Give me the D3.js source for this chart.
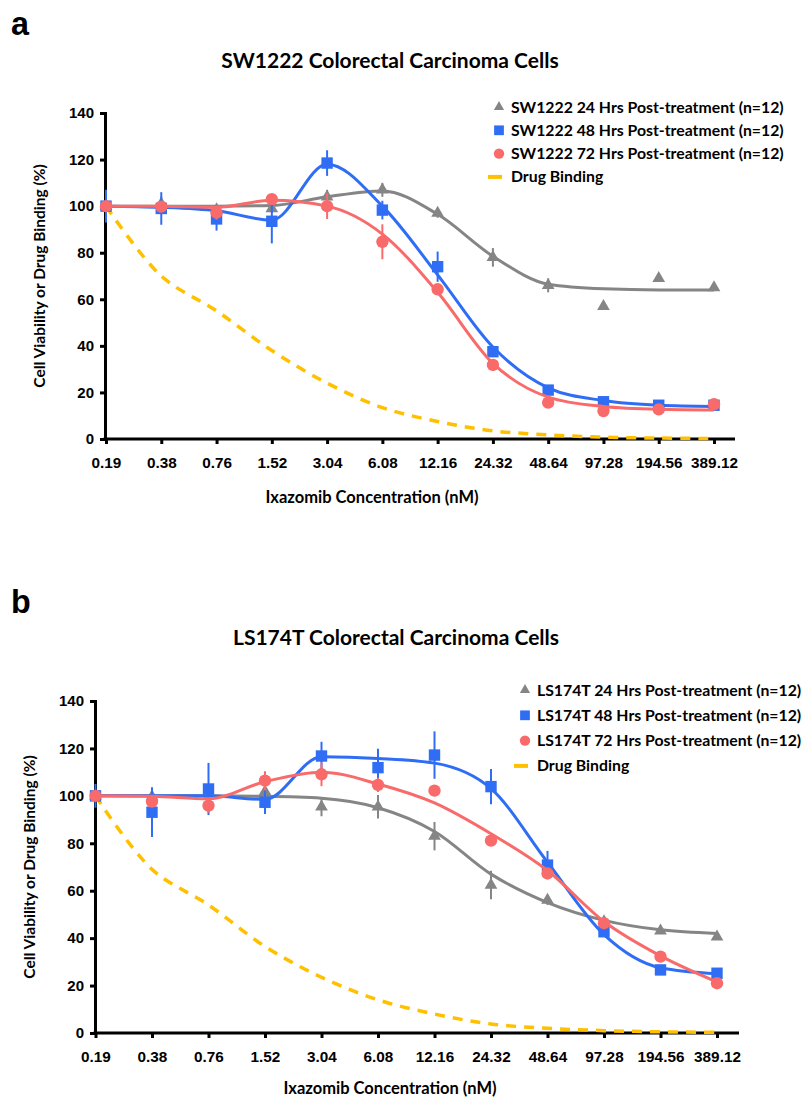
<!DOCTYPE html>
<html>
<head>
<meta charset="utf-8">
<script src="https://cdn.jsdelivr.net/npm/d3@7"></script>
<style>
  body { margin: 0; background: #fff; }
  svg text { font-family: "Liberation Sans", Arial, sans-serif; font-weight: bold; fill: #000; }
  svg text.cal { font-family: Lato, "Open Sans", sans-serif; }
</style>
</head>
<body>
<svg id="chart" width="809" height="1099"></svg>
<script>
const concentrations = ["0.19", "0.38", "0.76", "1.52", "3.04", "6.08", "12.16", "24.32", "48.64", "97.28", "194.56", "389.12"];
const yTicks = [0, 20, 40, 60, 80, 100, 120, 140];

// SW1222 (panel a)
const sw24 = [100, 101, 98.5, 99, 104, 107, 97, 78, 66, 57, 69, 65];
const sw24Err = [0, 3, 2, 2, 3, 3, 2, 4, 3, 1, 1, 1];
const sw24Fit = [100, 100, 100, 100.3, 104, 106.5, 96.5, 78.5, 66.5, 64.5, 64, 64];
const sw48 = [100, 99, 94.5, 93.5, 118.5, 98.3, 74, 37.5, 21, 16, 14.5, 14.5];
const sw48Err = [7, 7, 5, 9.5, 5.5, 4, 6.5, 2, 1.5, 1, 1, 1];
const sw48Fit = [100, 99.5, 98, 94, 118, 100, 70.5, 39.5, 22, 16.5, 14.5, 14];
const sw72 = [100, 99.8, 97.2, 103, 100, 84.7, 64.3, 31.8, 15.6, 12, 12.7, 14.9];
const sw72Err = [2, 2, 3, 2, 5.5, 7.5, 2, 1.5, 1, 1, 1, 1];
const sw72Fit = [100, 100, 99.5, 102.5, 100, 88, 63, 32.5, 18, 14, 12.8, 12.5];
const swDrug = [100, 70, 55, 38, 24, 13.5, 7.5, 3.5, 1.8, 0.8, 0.4, 0.2];

// LS174T (panel b)
const ls24 = [100, 99.7, 100, 101.8, 95.4, 95.4, 83, 62.4, 56, 47, 43.1, 40.6];
const ls24Err = [2, 2, 2, 3, 4, 5, 6, 6, 2, 1, 1, 1];
const ls24Fit = [100, 100, 100, 99.8, 99, 95, 85, 67, 55, 47.5, 43.5, 42];
const ls48 = [100, 93.1, 102.9, 97.3, 116.8, 111.9, 117.2, 103.9, 70.8, 42.7, 26.6, 25.2];
const ls48Err = [5, 10.5, 11, 5, 6, 8, 10, 7.4, 6, 2, 1, 1];
const ls48Fit = [100, 100, 100, 98.5, 116.5, 115.8, 113.8, 103, 72, 41.5, 27.5, 25];
const ls72 = [100, 97.6, 95.9, 106.4, 109.1, 104.6, 102.2, 81.1, 67.3, 46.3, 32.2, 21];
const ls72Err = [2, 2, 3, 4, 5, 3, 2, 2, 2, 1, 1, 1];
const ls72Fit = [100, 99.8, 98.8, 106, 110, 105, 97, 84, 68.5, 47, 32.5, 21.5];
const lsDrug = [100, 69, 54, 36.5, 23.5, 14, 8, 3.8, 2, 1, 0.5, 0.3];

const colors = { h24: "#858585", h48: "#2f6df5", h72: "#f96a6a", drug: "#ffc000" };

const svg = d3.select("#chart");

const drawPanel = (p) => {
  const x = d3.scalePoint().domain(concentrations).range([p.x0, p.x1]);
  const y = d3.scaleLinear().domain([0, 140]).range([p.yBottom, p.yTop]);
  const g = svg.append("g");

  // panel letter + title
  g.append("text").attr("transform", `translate(11,${p.letterY}) scale(0.95,1)`)
    .attr("font-size", 34).text(p.letter);
  g.append("text").attr("class", "cal").attr("x", p.titleX).attr("y", p.titleY)
    .attr("text-anchor", "middle").attr("font-size", 21).text(p.title);

  // axes
  const yAxis = g.append("g")
    .attr("transform", `translate(${p.axisX},0)`)
    .call(d3.axisLeft(y).tickValues(yTicks).tickSize(5).tickPadding(6).tickFormat(d3.format("d")));
  yAxis.select(".domain").attr("stroke-width", 3);
  yAxis.selectAll(".tick line").attr("stroke-width", 3);
  yAxis.selectAll(".tick text").attr("font-size", 15).attr("font-family", null);

  const xAxis = g.append("g")
    .attr("transform", `translate(0,${p.yBottom})`)
    .call(d3.axisBottom(x).tickSize(5).tickPadding(13));
  xAxis.select(".domain").remove();
  xAxis.append("line")
    .attr("x1", p.axisX - 1.5).attr("x2", p.axisEnd)
    .attr("stroke", "#000").attr("stroke-width", 3);
  xAxis.selectAll(".tick line").attr("stroke-width", 3);
  xAxis.selectAll(".tick text").attr("font-size", 15.3).attr("font-family", null);

  // axis titles
  g.append("text").attr("class", "cal")
    .attr("transform", `translate(${p.yTitleX},${(p.yTop + p.yBottom) / 2}) rotate(-90)`)
    .attr("text-anchor", "middle").attr("font-size", 15.5)
    .text("Cell Viability or Drug Binding (%)");
  g.append("text").attr("class", "cal")
    .attr("x", p.xTitleX).attr("y", p.xTitleY)
    .attr("text-anchor", "middle").attr("font-size", 16.5)
    .text("Ixazomib Concentration (nM)");

  const line = d3.line()
    .x((d, i) => x(concentrations[i]))
    .y((d) => y(d))
    .curve(d3.curveMonotoneX);

  // drug binding dashed curve
  g.append("path").datum(p.drug)
    .attr("d", line.curve(d3.curveCatmullRom.alpha(0.5))).attr("fill", "none")
    .attr("stroke", colors.drug).attr("stroke-width", 3.5)
    .attr("stroke-dasharray", "10 8");
  line.curve(d3.curveMonotoneX);

  const series = [
    { vals: p.s24, err: p.e24, fit: p.f24, color: colors.h24, sym: d3.symbolTriangle, size: 70 },
    { vals: p.s48, err: p.e48, fit: p.f48, color: colors.h48, sym: d3.symbolSquare, size: 130 },
    { vals: p.s72, err: p.e72, fit: p.f72, color: colors.h72, sym: d3.symbolCircle, size: 120 },
  ];

  series.forEach((s) => {
    const sg = g.append("g");
    sg.selectAll(".err").data(s.vals).join("line")
      .attr("x1", (d, i) => x(concentrations[i]))
      .attr("x2", (d, i) => x(concentrations[i]))
      .attr("y1", (d, i) => y(d - s.err[i]))
      .attr("y2", (d, i) => y(d + s.err[i]))
      .attr("stroke", s.color).attr("stroke-width", 2);
    sg.append("path").datum(s.fit)
      .attr("d", line).attr("fill", "none")
      .attr("stroke", s.color).attr("stroke-width", 3);
    sg.selectAll(".pt").data(s.vals).join("path")
      .attr("transform", (d, i) => `translate(${x(concentrations[i])},${y(d)})`)
      .attr("d", d3.symbol(s.sym, s.size))
      .attr("fill", s.color);
  });

  // legend
  const lg = g.append("g").attr("transform", `translate(${p.legX},${p.legY})`);
  const legSyms = [
    { sym: d3.symbolTriangle, size: 45, color: colors.h24 },
    { sym: d3.symbolSquare, size: 95, color: colors.h48 },
    { sym: d3.symbolCircle, size: 85, color: colors.h72 },
  ];
  p.legend.forEach((label, i) => {
    const row = lg.append("g").attr("transform", `translate(0,${i * p.legStep})`);
    if (i < 3) {
      row.append("path").attr("transform", "translate(-12,0)")
        .attr("d", d3.symbol(legSyms[i].sym, legSyms[i].size))
        .attr("fill", legSyms[i].color);
    } else {
      row.append("line").attr("x1", -23).attr("x2", -9)
        .attr("stroke", colors.drug).attr("stroke-width", 4);
    }
    row.append("text").attr("class", "cal").attr("x", 0).attr("dy", "0.35em")
      .attr("font-size", 15.8).text(label);
  });
};

drawPanel({
  letter: "a", letterY: 35,
  title: "SW1222 Colorectal Carcinoma Cells", titleX: 390, titleY: 68,
  x0: 106, x1: 714, axisX: 105, axisEnd: 735, yTop: 113, yBottom: 439,
  yTitleX: 45, xTitleX: 372, xTitleY: 503,
  s24: sw24, e24: sw24Err, f24: sw24Fit,
  s48: sw48, e48: sw48Err, f48: sw48Fit,
  s72: sw72, e72: sw72Err, f72: sw72Fit,
  drug: swDrug,
  legX: 511, legY: 107, legStep: 23.3,
  legend: ["SW1222 24 Hrs Post-treatment (n=12)", "SW1222 48 Hrs Post-treatment (n=12)",
           "SW1222 72 Hrs Post-treatment (n=12)", "Drug Binding"],
});

drawPanel({
  letter: "b", letterY: 613,
  title: "LS174T Colorectal Carcinoma Cells", titleX: 396, titleY: 645,
  x0: 95.5, x1: 717, axisX: 95, axisEnd: 739, yTop: 701, yBottom: 1033,
  yTitleX: 35, xTitleX: 390, xTitleY: 1094,
  s24: ls24, e24: ls24Err, f24: ls24Fit,
  s48: ls48, e48: ls48Err, f48: ls48Fit,
  s72: ls72, e72: ls72Err, f72: ls72Fit,
  drug: lsDrug,
  legX: 537, legY: 690, legStep: 25.3,
  legend: ["LS174T 24 Hrs Post-treatment (n=12)", "LS174T 48 Hrs Post-treatment (n=12)",
           "LS174T 72 Hrs Post-treatment (n=12)", "Drug Binding"],
});
</script>
</body>
</html>
